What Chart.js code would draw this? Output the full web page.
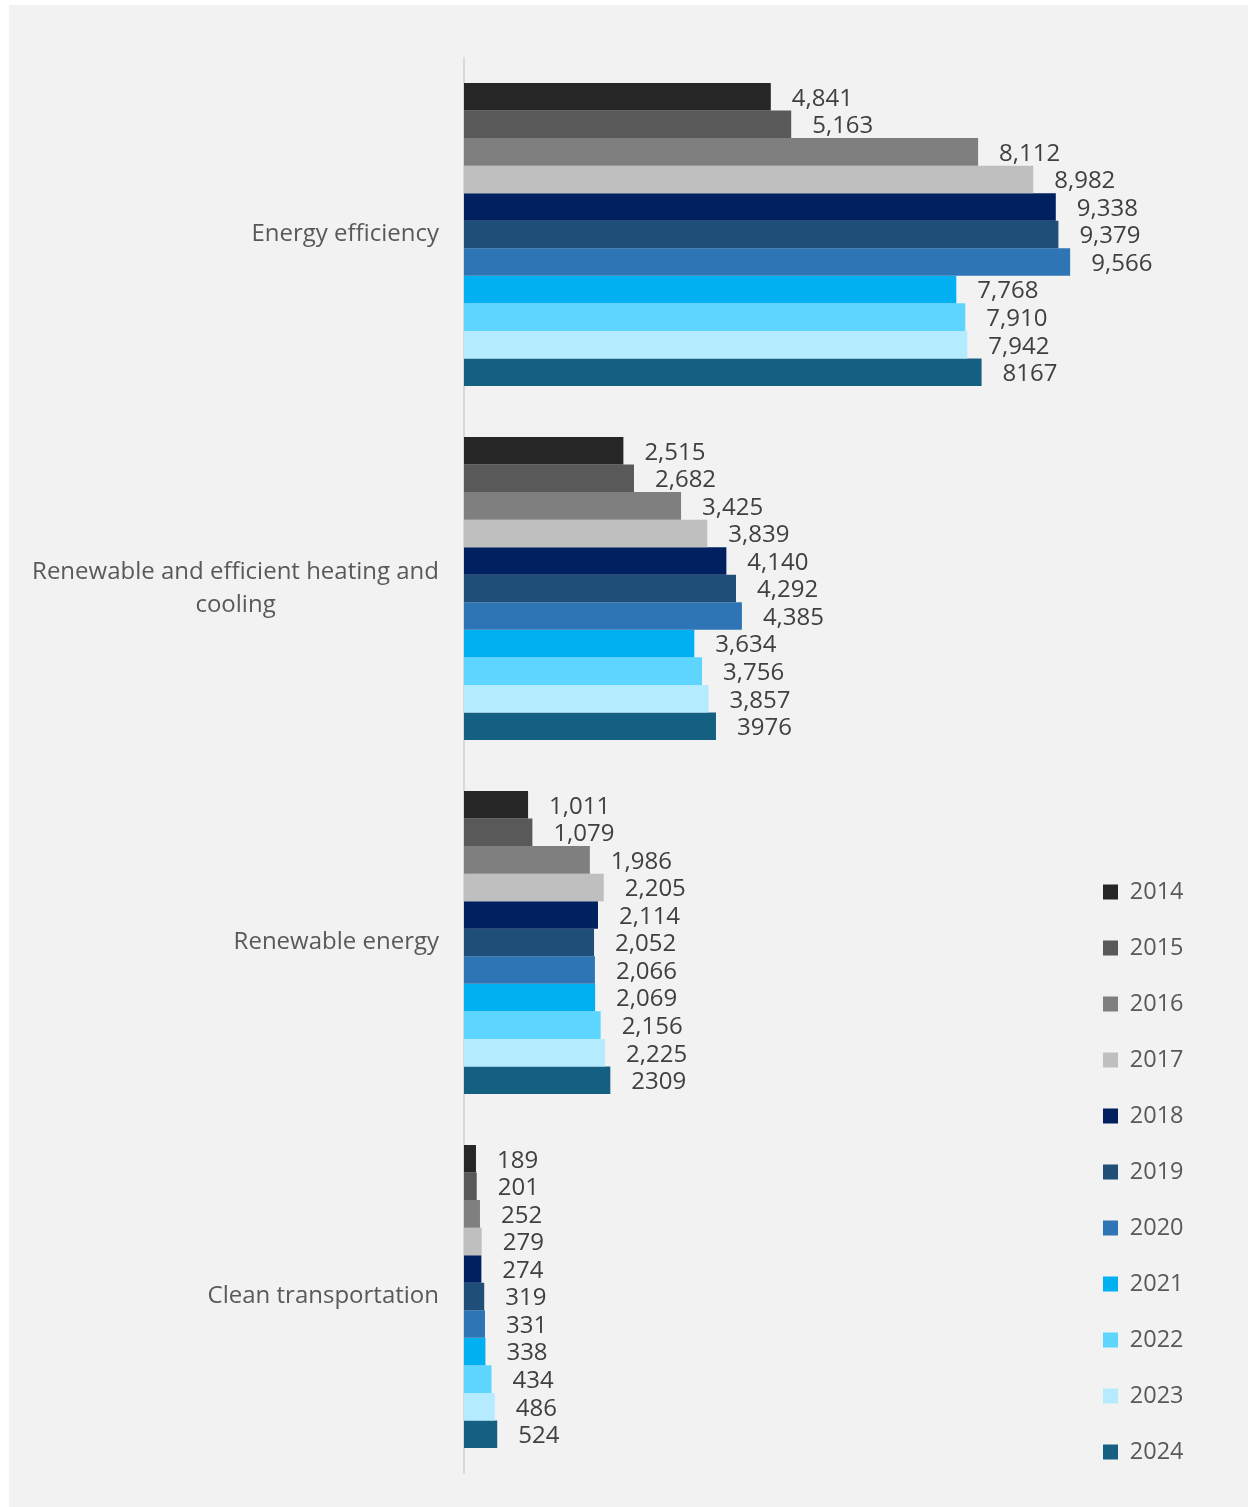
<!DOCTYPE html>
<html>
<head>
<meta charset="utf-8">
<title>Investment by category, 2014–2024</title>
<script src="https://cdn.jsdelivr.net/npm/chart.js@4.4.1/dist/chart.umd.min.js"></script>
<style>
  html, body { margin: 0; padding: 0; background: #ffffff; }
  .panel { position: absolute; left: 9px; top: 5px; width: 1239px; height: 1502px; background: #f2f2f2; }
  #chart { position: absolute; left: 0; top: 0; }
</style>
</head>
<body>
<div class="panel"></div>
<canvas id="chart" width="1252" height="1507"></canvas>
<script>
const categories = [
  "Energy efficiency",
  ["Renewable and efficient heating and", "cooling"],
  "Renewable energy",
  "Clean transportation"
];
const years = ["2014", "2015", "2016", "2017", "2018", "2019", "2020", "2021", "2022", "2023", "2024"];

// one value per year, 2014 -> 2024
const energyEfficiency = [4841, 5163, 8112, 8982, 9338, 9379, 9566, 7768, 7910, 7942, 8167];
const heatingCooling   = [2515, 2682, 3425, 3839, 4140, 4292, 4385, 3634, 3756, 3857, 3976];
const renewableEnergy  = [1011, 1079, 1986, 2205, 2114, 2052, 2066, 2069, 2156, 2225, 2309];
const cleanTransport   = [189, 201, 252, 279, 274, 319, 331, 338, 434, 486, 524];

const colors = [
  "#262626", "#595959", "#7f7f7f", "#bfbfbf", "#002060", "#1f4e79",
  "#2e75b6", "#00b0f0", "#5dd5ff", "#b4ebff", "#156082"
];

// latest year is printed without a thousands separator
function formatValue(year, v) {
  return year === "2024" ? String(v) : v.toLocaleString("en-US");
}

const valueLabels = {
  id: "valueLabels",
  afterDatasetsDraw(chart) {
    const ctx = chart.ctx;
    ctx.save();
    ctx.font = '24px "Open Sans"';
    ctx.fillStyle = "#404040";
    ctx.textAlign = "left";
    ctx.textBaseline = "middle";
    chart.data.datasets.forEach((ds, i) => {
      chart.getDatasetMeta(i).data.forEach((bar, j) => {
        ctx.fillText(formatValue(ds.label, ds.data[j]), bar.x + 21, bar.y + 2);
      });
    });
    ctx.restore();
  }
};

// category names: block right-aligned to the axis, lines centred inside it
const categoryLabels = {
  id: "categoryLabels",
  afterDraw(chart) {
    const yScale = chart.scales.y;
    const ctx = chart.ctx;
    ctx.save();
    ctx.font = '24px "Open Sans"';
    ctx.fillStyle = "#595959";
    ctx.textAlign = "center";
    ctx.textBaseline = "middle";
    const right = yScale.right - 25;
    chart.data.labels.forEach((cat, i) => {
      const lines = Array.isArray(cat) ? cat : [cat];
      const blockWidth = Math.max(...lines.map(l => ctx.measureText(l).width));
      const cx = right - blockWidth / 2;
      const cy = yScale.getPixelForTick(i);
      lines.forEach((line, k) => {
        ctx.fillText(line, cx, cy + (k - (lines.length - 1) / 2) * 33);
      });
    });
    ctx.restore();
  }
};

function draw() {
  const series = [energyEfficiency, heatingCooling, renewableEnergy, cleanTransport];
  const datasets = years.map((year, i) => ({
    label: year,
    data: series.map(s => s[i]),
    backgroundColor: colors[i],
    borderWidth: 0,
    barPercentage: 1,
    categoryPercentage: 0.856
  }));

  new Chart(document.getElementById("chart"), {
    type: "bar",
    data: { labels: categories, datasets: datasets },
    options: {
      indexAxis: "y",
      responsive: false,
      animation: false,
      layout: { padding: { top: 57.5, bottom: 10.75, left: 0, right: 58.5 } },
      scales: {
        x: {
          min: 0,
          max: 9570,
          ticks: { display: false },
          grid: { display: false },
          border: { display: false },
          afterFit: (scale) => { scale.height = 22.75; }
        },
        y: {
          ticks: { display: false },
          grid: { display: false },
          border: { display: true, color: "#d9d9d9", width: 2 },
          afterFit: (scale) => { scale.width = 464; }
        }
      },
      plugins: {
        legend: {
          position: "right",
          align: "end",
          labels: {
            boxWidth: 15,
            boxHeight: 15,
            padding: 32.5,
            color: "#595959",
            font: { family: "Open Sans", size: 23.5 }
          }
        },
        tooltip: { enabled: false }
      }
    },
    plugins: [valueLabels, categoryLabels]
  });
}

document.fonts.load('24px "Open Sans"').then(draw, draw);
</script>
</body>
</html>
